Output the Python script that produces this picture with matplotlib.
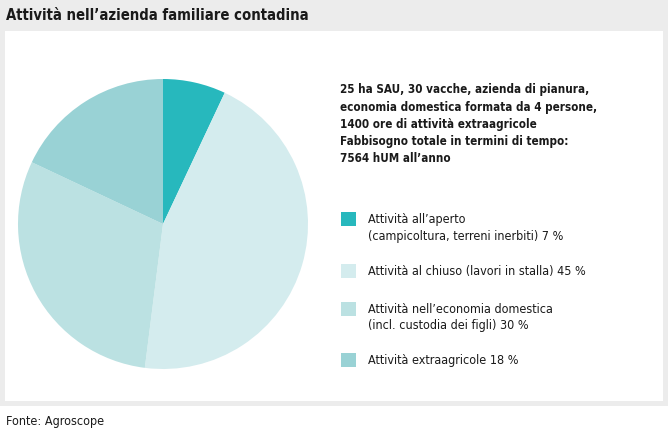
import matplotlib
matplotlib.use("Agg")
import matplotlib.pyplot as plt
from matplotlib.patches import Rectangle

labels = [["Attività all’aperto", "(campicoltura, terreni inerbiti) 7 %"],
          ["Attività al chiuso (lavori in stalla) 45 %"],
          ["Attività nell’economia domestica", "(incl. custodia dei figli) 30 %"],
          ["Attività extraagricole 18 %"]]
values = [7, 45, 30, 18]
colors = ["#27b8bd", "#d4ecee", "#bbe1e2", "#99d2d5"]
title = "Attività nell’azienda familiare contadina"
info = ["25 ha SAU, 30 vacche, azienda di pianura,",
        "economia domestica formata da 4 persone,",
        "1400 ore di attività extraagricole",
        "Fabbisogno totale in termini di tempo:",
        "7564 hUM all’anno"]
source = "Fonte: Agroscope"

W, H = 668, 436
FAM = ["Liberation Sans Narrow", "DejaVu Sans"]
plt.rcParams["font.family"] = FAM
fig = plt.figure(figsize=(W / 100, H / 100), dpi=100)
fig.patch.set_facecolor("white")

def px(x, y):
    return x / W, 1 - y / H

# gray frame and white panel
fig.patches.append(Rectangle((0, 1 - 406 / H), 1, 406 / H, transform=fig.transFigure,
                             facecolor="#ececec", edgecolor="none", zorder=0))
fig.patches.append(Rectangle((5 / W, 1 - 401 / H), 658 / W, 370 / H, transform=fig.transFigure,
                             facecolor="white", edgecolor="none", zorder=1))

fig.text(*px(6, 15), title, fontsize=10.6, fontweight="bold", va="center", ha="left",
         color="#1a1a1a", stretch="condensed")
fig.text(*px(6, 421), source, fontsize=9, va="center", ha="left", color="#1a1a1a",
         stretch="condensed")

# pie
cx, cy, r = 163, 224, 145
ax = fig.add_axes([(cx - r) / W, 1 - (cy + r) / H, 2 * r / W, 2 * r / H])
ax.pie(values, colors=colors, startangle=90, counterclock=False, radius=1,
       wedgeprops=dict(linewidth=0))
ax.set_xlim(-1, 1)
ax.set_ylim(-1, 1)
ax.set_aspect("equal")
ax.axis("off")
ax.set_zorder(2)

for i, line in enumerate(info):
    fig.text(*px(340, 90 + 17 * i), line, fontsize=8.4, fontweight="bold",
             va="center", ha="left", color="#1a1a1a", stretch="condensed")

# legend
ys = [219, 271, 309, 360]
for lab, col, y in zip(labels, colors, ys):
    fig.patches.append(Rectangle((341 / W, 1 - (y + 7) / H), 15 / W, 14 / H,
                                 transform=fig.transFigure, facecolor=col,
                                 edgecolor="none", zorder=3))
    for j, line in enumerate(lab):
        fig.text(*px(368, y + 17 * j), line, fontsize=9, va="center", ha="left",
                 color="#1a1a1a", stretch="condensed")

fig.savefig("out.png", dpi=100)
